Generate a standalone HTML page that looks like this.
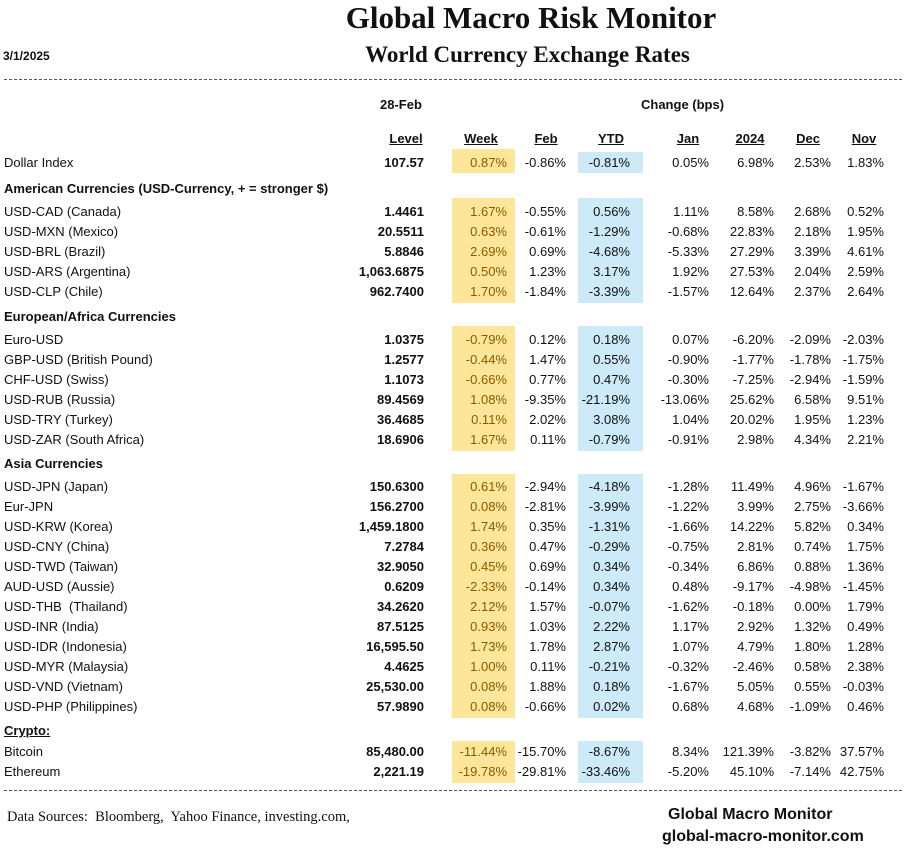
<!DOCTYPE html>
<html><head><meta charset="utf-8"><style>
body{margin:0;width:923px;height:852px;background:#fff;position:relative;overflow:hidden;font-family:"Liberation Sans",sans-serif;color:#111}
.a{position:absolute;white-space:nowrap}
.r{position:absolute;left:0;width:923px;height:20px;font-size:13px;line-height:20px}
.r span{position:absolute;top:0;text-align:right}
.n{left:4px;text-align:left!important}
.l{left:300px;width:124px;font-weight:bold}
.w{left:440px;width:67px;color:#8a5a00}
.f{left:510px;width:56px}
.y{left:570px;width:60px}
.j{left:640px;width:69px}
.k{left:710px;width:64px}
.d{left:780px;width:51px}
.v{left:835px;width:49px}
.h{position:absolute;font-size:13px;font-weight:bold;left:4px}
.hd{position:absolute;top:131px;font-size:13px;font-weight:bold;text-decoration:underline;transform:translateX(-50%)}
.ye{position:absolute;left:452px;width:63px;background:#fde699}
.bl{position:absolute;left:578px;width:65px;background:#cdeaf8}
.dash{position:absolute;left:4px;width:898px;border-top:1px dashed #555}
</style></head><body>
<div class="ye" style="top:149px;height:24px"></div><div class="ye" style="top:198px;height:105px"></div><div class="ye" style="top:326px;height:125px"></div><div class="ye" style="top:474px;height:244px"></div><div class="ye" style="top:741px;height:42px"></div>
<div class="bl" style="top:152px;height:21px"></div><div class="bl" style="top:198px;height:105px"></div><div class="bl" style="top:326px;height:125px"></div><div class="bl" style="top:474px;height:244px"></div><div class="bl" style="top:741px;height:42px"></div>

<div class="a" style="left:0;width:1062px;top:0;text-align:center;font-family:'Liberation Serif',serif;font-weight:bold;font-size:31px;line-height:36px">Global Macro Risk Monitor</div>
<div class="a" style="left:0;width:1055px;top:41px;text-align:center;font-family:'Liberation Serif',serif;font-weight:bold;font-size:23px;line-height:28px">World Currency Exchange Rates</div>
<div class="a" style="left:3px;top:49px;font-size:12px;font-weight:bold">3/1/2025</div>
<div class="dash" style="top:79px"></div>
<div class="a" style="left:380px;top:97px;font-size:13px;font-weight:bold">28-Feb</div>
<div class="a" style="left:641px;top:97px;font-size:13px;font-weight:bold">Change (bps)</div>
<div class="hd" style="left:406px">Level</div><div class="hd" style="left:481px">Week</div><div class="hd" style="left:546px">Feb</div><div class="hd" style="left:611px">YTD</div><div class="hd" style="left:688px">Jan</div><div class="hd" style="left:750px">2024</div><div class="hd" style="left:808px">Dec</div><div class="hd" style="left:864px">Nov</div>

<div class="r" style="top:153px"><span class="n">Dollar Index</span><span class="l">107.57</span><span class="w">0.87%</span><span class="f">-0.86%</span><span class="y">-0.81%</span><span class="j">0.05%</span><span class="k">6.98%</span><span class="d">2.53%</span><span class="v">1.83%</span></div>
<div class="h" style="top:181px">American Currencies (USD-Currency, + = stronger $)</div>
<div class="r" style="top:202px"><span class="n">USD-CAD (Canada)</span><span class="l">1.4461</span><span class="w">1.67%</span><span class="f">-0.55%</span><span class="y">0.56%</span><span class="j">1.11%</span><span class="k">8.58%</span><span class="d">2.68%</span><span class="v">0.52%</span></div>
<div class="r" style="top:222px"><span class="n">USD-MXN (Mexico)</span><span class="l">20.5511</span><span class="w">0.63%</span><span class="f">-0.61%</span><span class="y">-1.29%</span><span class="j">-0.68%</span><span class="k">22.83%</span><span class="d">2.18%</span><span class="v">1.95%</span></div>
<div class="r" style="top:242px"><span class="n">USD-BRL (Brazil)</span><span class="l">5.8846</span><span class="w">2.69%</span><span class="f">0.69%</span><span class="y">-4.68%</span><span class="j">-5.33%</span><span class="k">27.29%</span><span class="d">3.39%</span><span class="v">4.61%</span></div>
<div class="r" style="top:262px"><span class="n">USD-ARS (Argentina)</span><span class="l">1,063.6875</span><span class="w">0.50%</span><span class="f">1.23%</span><span class="y">3.17%</span><span class="j">1.92%</span><span class="k">27.53%</span><span class="d">2.04%</span><span class="v">2.59%</span></div>
<div class="r" style="top:282px"><span class="n">USD-CLP (Chile)</span><span class="l">962.7400</span><span class="w">1.70%</span><span class="f">-1.84%</span><span class="y">-3.39%</span><span class="j">-1.57%</span><span class="k">12.64%</span><span class="d">2.37%</span><span class="v">2.64%</span></div>
<div class="h" style="top:309px">European/Africa Currencies</div>
<div class="r" style="top:330px"><span class="n">Euro-USD</span><span class="l">1.0375</span><span class="w">-0.79%</span><span class="f">0.12%</span><span class="y">0.18%</span><span class="j">0.07%</span><span class="k">-6.20%</span><span class="d">-2.09%</span><span class="v">-2.03%</span></div>
<div class="r" style="top:350px"><span class="n">GBP-USD (British Pound)</span><span class="l">1.2577</span><span class="w">-0.44%</span><span class="f">1.47%</span><span class="y">0.55%</span><span class="j">-0.90%</span><span class="k">-1.77%</span><span class="d">-1.78%</span><span class="v">-1.75%</span></div>
<div class="r" style="top:370px"><span class="n">CHF-USD (Swiss)</span><span class="l">1.1073</span><span class="w">-0.66%</span><span class="f">0.77%</span><span class="y">0.47%</span><span class="j">-0.30%</span><span class="k">-7.25%</span><span class="d">-2.94%</span><span class="v">-1.59%</span></div>
<div class="r" style="top:390px"><span class="n">USD-RUB (Russia)</span><span class="l">89.4569</span><span class="w">1.08%</span><span class="f">-9.35%</span><span class="y">-21.19%</span><span class="j">-13.06%</span><span class="k">25.62%</span><span class="d">6.58%</span><span class="v">9.51%</span></div>
<div class="r" style="top:410px"><span class="n">USD-TRY (Turkey)</span><span class="l">36.4685</span><span class="w">0.11%</span><span class="f">2.02%</span><span class="y">3.08%</span><span class="j">1.04%</span><span class="k">20.02%</span><span class="d">1.95%</span><span class="v">1.23%</span></div>
<div class="r" style="top:430px"><span class="n">USD-ZAR (South Africa)</span><span class="l">18.6906</span><span class="w">1.67%</span><span class="f">0.11%</span><span class="y">-0.79%</span><span class="j">-0.91%</span><span class="k">2.98%</span><span class="d">4.34%</span><span class="v">2.21%</span></div>
<div class="h" style="top:456px">Asia Currencies</div>
<div class="r" style="top:477px"><span class="n">USD-JPN (Japan)</span><span class="l">150.6300</span><span class="w">0.61%</span><span class="f">-2.94%</span><span class="y">-4.18%</span><span class="j">-1.28%</span><span class="k">11.49%</span><span class="d">4.96%</span><span class="v">-1.67%</span></div>
<div class="r" style="top:497px"><span class="n">Eur-JPN</span><span class="l">156.2700</span><span class="w">0.08%</span><span class="f">-2.81%</span><span class="y">-3.99%</span><span class="j">-1.22%</span><span class="k">3.99%</span><span class="d">2.75%</span><span class="v">-3.66%</span></div>
<div class="r" style="top:517px"><span class="n">USD-KRW (Korea)</span><span class="l">1,459.1800</span><span class="w">1.74%</span><span class="f">0.35%</span><span class="y">-1.31%</span><span class="j">-1.66%</span><span class="k">14.22%</span><span class="d">5.82%</span><span class="v">0.34%</span></div>
<div class="r" style="top:537px"><span class="n">USD-CNY (China)</span><span class="l">7.2784</span><span class="w">0.36%</span><span class="f">0.47%</span><span class="y">-0.29%</span><span class="j">-0.75%</span><span class="k">2.81%</span><span class="d">0.74%</span><span class="v">1.75%</span></div>
<div class="r" style="top:557px"><span class="n">USD-TWD (Taiwan)</span><span class="l">32.9050</span><span class="w">0.45%</span><span class="f">0.69%</span><span class="y">0.34%</span><span class="j">-0.34%</span><span class="k">6.86%</span><span class="d">0.88%</span><span class="v">1.36%</span></div>
<div class="r" style="top:577px"><span class="n">AUD-USD (Aussie)</span><span class="l">0.6209</span><span class="w">-2.33%</span><span class="f">-0.14%</span><span class="y">0.34%</span><span class="j">0.48%</span><span class="k">-9.17%</span><span class="d">-4.98%</span><span class="v">-1.45%</span></div>
<div class="r" style="top:597px"><span class="n">USD-THB &nbsp;(Thailand)</span><span class="l">34.2620</span><span class="w">2.12%</span><span class="f">1.57%</span><span class="y">-0.07%</span><span class="j">-1.62%</span><span class="k">-0.18%</span><span class="d">0.00%</span><span class="v">1.79%</span></div>
<div class="r" style="top:617px"><span class="n">USD-INR (India)</span><span class="l">87.5125</span><span class="w">0.93%</span><span class="f">1.03%</span><span class="y">2.22%</span><span class="j">1.17%</span><span class="k">2.92%</span><span class="d">1.32%</span><span class="v">0.49%</span></div>
<div class="r" style="top:637px"><span class="n">USD-IDR (Indonesia)</span><span class="l">16,595.50</span><span class="w">1.73%</span><span class="f">1.78%</span><span class="y">2.87%</span><span class="j">1.07%</span><span class="k">4.79%</span><span class="d">1.80%</span><span class="v">1.28%</span></div>
<div class="r" style="top:657px"><span class="n">USD-MYR (Malaysia)</span><span class="l">4.4625</span><span class="w">1.00%</span><span class="f">0.11%</span><span class="y">-0.21%</span><span class="j">-0.32%</span><span class="k">-2.46%</span><span class="d">0.58%</span><span class="v">2.38%</span></div>
<div class="r" style="top:677px"><span class="n">USD-VND (Vietnam)</span><span class="l">25,530.00</span><span class="w">0.08%</span><span class="f">1.88%</span><span class="y">0.18%</span><span class="j">-1.67%</span><span class="k">5.05%</span><span class="d">0.55%</span><span class="v">-0.03%</span></div>
<div class="r" style="top:697px"><span class="n">USD-PHP (Philippines)</span><span class="l">57.9890</span><span class="w">0.08%</span><span class="f">-0.66%</span><span class="y">0.02%</span><span class="j">0.68%</span><span class="k">4.68%</span><span class="d">-1.09%</span><span class="v">0.46%</span></div>
<div class="h" style="top:723px;text-decoration:underline">Crypto:</div>
<div class="r" style="top:742px"><span class="n">Bitcoin</span><span class="l">85,480.00</span><span class="w">-11.44%</span><span class="f">-15.70%</span><span class="y">-8.67%</span><span class="j">8.34%</span><span class="k">121.39%</span><span class="d">-3.82%</span><span class="v">37.57%</span></div>
<div class="r" style="top:762px"><span class="n">Ethereum</span><span class="l">2,221.19</span><span class="w">-19.78%</span><span class="f">-29.81%</span><span class="y">-33.46%</span><span class="j">-5.20%</span><span class="k">45.10%</span><span class="d">-7.14%</span><span class="v">42.75%</span></div>
<div class="dash" style="top:790px"></div>
<div class="a" style="left:7px;top:809px;font-family:'Liberation Serif',serif;font-size:14.5px">Data Sources:&nbsp; Bloomberg,&nbsp; Yahoo Finance, investing.com,</div>
<div class="a" style="left:668px;top:806px;font-size:16px;font-weight:bold">Global Macro Monitor</div>
<div class="a" style="left:662px;top:828px;font-size:16px;font-weight:bold">global-macro-monitor.com</div>
</body></html>
